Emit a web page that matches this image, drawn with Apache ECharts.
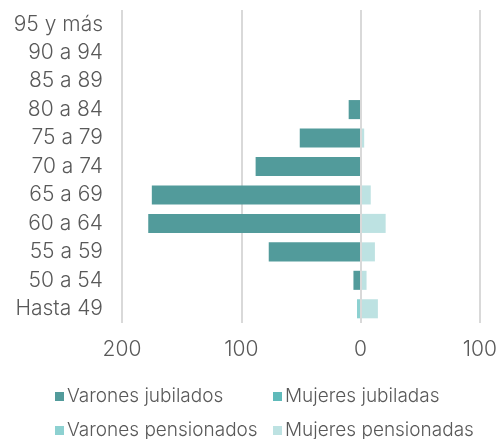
<!DOCTYPE html>
<html>
<head>
<meta charset="utf-8">
<script src="https://cdn.jsdelivr.net/npm/echarts@6/dist/echarts.min.js"></script>
<style>
  html, body { margin: 0; padding: 0; background: #fff; }
  #chart { width: 500px; height: 439px; }
</style>
</head>
<body>
<div id="chart"></div>
<script>
// age groups, bottom to top
const categories = ['Hasta 49', '50 a 54', '55 a 59', '60 a 64', '65 a 69', '70 a 74', '75 a 79', '80 a 84', '85 a 89', '90 a 94', '95 y más'];
// men are drawn on the left, so negative
const varonesJubilados = [0, -6, -77, -178, -175, -88, -51, -10, 0, 0, 0];
const mujeresJubiladas = [0, 0, 0, 0, 0, 0, 0, 0, 0, 0, 0];
const varonesPensionados = [-3, 0, 0, 0, 0, 0, 0, 0, -0.5, 0, 0];
const mujeresPensionadas = [14.5, 5, 12, 21, 8.5, 1, 3, 0, 1, 0, 0];
const xTicks = [-200, -100, 0, 100];

const FONT = 'Inter';
const GREY = '#595959';

const chart = echarts.init(document.getElementById('chart'));

const mkSeries = (name, data, color) => ({
  name: name,
  type: 'bar',
  stack: 'total',
  data: data,
  barCategoryGap: '33%',
  itemStyle: { color: color },
  emphasis: { disabled: true }
});

const mkLegend = (name, left, top) => ({
  data: [name],
  left: left,
  top: top,
  icon: 'rect',
  itemWidth: 9,
  itemHeight: 9,
  selectedMode: false,
  textStyle: { fontFamily: FONT, fontWeight: 300, fontSize: 19, color: GREY, padding: [0, 0, 0, -2] }
});

const series = [
  mkSeries('Varones jubilados', varonesJubilados, '#529b9b'),
  mkSeries('Mujeres jubiladas', mujeresJubiladas, '#5fbaba'),
  mkSeries('Varones pensionados', varonesPensionados, '#8dd1d1'),
  mkSeries('Mujeres pensionadas', mujeresPensionadas, '#bde2e2')
];
// zero line sits over the bars in the original
series[3].markLine = {
  silent: true,
  symbol: 'none',
  label: { show: false },
  lineStyle: { color: '#d9d9d9', width: 2, type: 'solid' },
  data: [{ xAxis: 0 }]
};

chart.setOption({
  animation: false,
  grid: { left: 122, right: 19, top: 10, bottom: 116, containLabel: false },
  legend: [
    mkLegend('Varones jubilados', 50, 382),
    mkLegend('Mujeres jubiladas', 268, 382),
    mkLegend('Varones pensionados', 50, 416),
    mkLegend('Mujeres pensionadas', 268, 416)
  ],
  xAxis: {
    type: 'value',
    min: xTicks[0],
    max: xTicks[xTicks.length - 1],
    interval: 100,
    axisLine: { show: false },
    axisTick: { show: false },
    splitLine: { lineStyle: { color: '#d9d9d9', width: 2 } },
    axisLabel: {
      margin: 16,
      fontFamily: FONT,
      fontWeight: 300,
      fontSize: 21,
      color: GREY,
      formatter: v => String(Math.abs(v))
    }
  },
  yAxis: {
    type: 'category',
    data: categories,
    axisLine: { show: false },
    axisTick: { show: false },
    axisLabel: {
      margin: 19,
      fontFamily: FONT,
      fontWeight: 300,
      fontSize: 21,
      color: GREY
    }
  },
  series: series
});
</script>
</body>
</html>
